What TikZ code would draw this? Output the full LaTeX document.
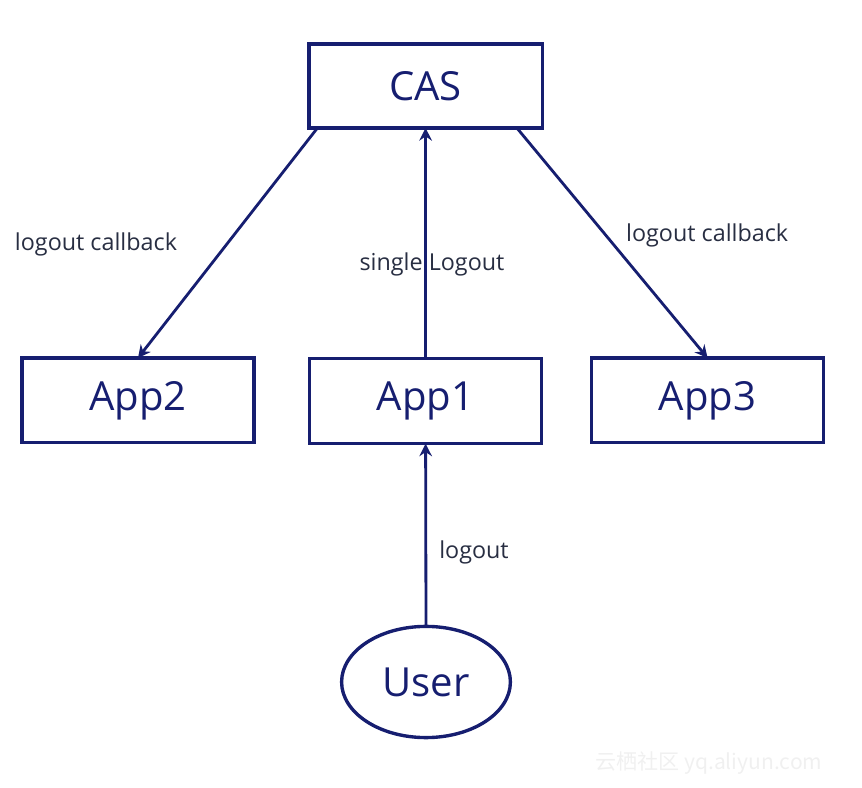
\documentclass[tikz,border=0pt]{standalone}
\usepackage{fontspec}
\setmainfont{Open Sans}
\newfontfamily\cjk{Noto Sans CJK SC}
\usetikzlibrary{arrows.meta, shapes.geometric}
\definecolor{navy}{RGB}{22,30,112}
\definecolor{labelgrey}{RGB}{40,46,66}

\begin{document}
\begin{tikzpicture}[
    every node/.style  = {inner sep=0pt, outer sep=0pt},
    box/.style         = {draw=navy, line width=2.4pt, minimum width=5.8cm, minimum height=2.12cm,
                          text=navy, font=\fontsize{28.5}{31}\selectfont},
    userv/.style       = {ellipse, draw=navy, line width=2.4pt, minimum width=4.22cm, minimum height=2.78cm,
                          text=navy, font=\fontsize{28.5}{31}\selectfont},
    msg/.style         = {text=labelgrey, font=\fontsize{16.6}{19}\selectfont},
    link/.style        = {draw=navy, line width=2pt, -{Stealth[length=9pt, width=9pt, inset=3pt]}}
    ]
      \useasboundingbox (0,0) rectangle (21.55,-19.7);
      % boxes ----------------------------------------------------
      \node[box, minimum width=5.83cm, minimum height=2.1cm] (cas)  at (10.64,-2.15)  {CAS};
      \node[box]   (app2) at (3.45,-10.01)  {App2};
      \node[box]   (app1) at (10.64,-10.03) {App1};
      \node[box]   (app3) at (17.69,-10.01) {App3};
      \node[userv] (user) at (10.65,-17.05) {User};

      % labels ---------------------------------------------------
      \node[msg] (cbleft)  at (2.4,-6.1)    {logout callback};
      \node[msg] (cbright) at (17.68,-5.88) {logout callback};
      \node[msg] (single)  at (10.8,-6.6)   {single Logout};
      \node[msg] (out)     at (11.85,-13.8) {logout};

      % edges ----------------------------------------------------
      \draw[link] (app1.north) -- (cas.south);
      \draw[link] (user.north) -- (app1.south);
      \draw[link] ([xshift=6pt]cas.south west) -- (app2.north);
      \draw[link] ([xshift=-18pt]cas.south east) -- (app3.north);

      % watermark
      \node[text=gray!12, font=\cjk\fontsize{15}{17}\selectfont] (mark) at (17.72,-19.08) {云栖社区 yq.aliyun.com};
\end{tikzpicture}
\end{document}
